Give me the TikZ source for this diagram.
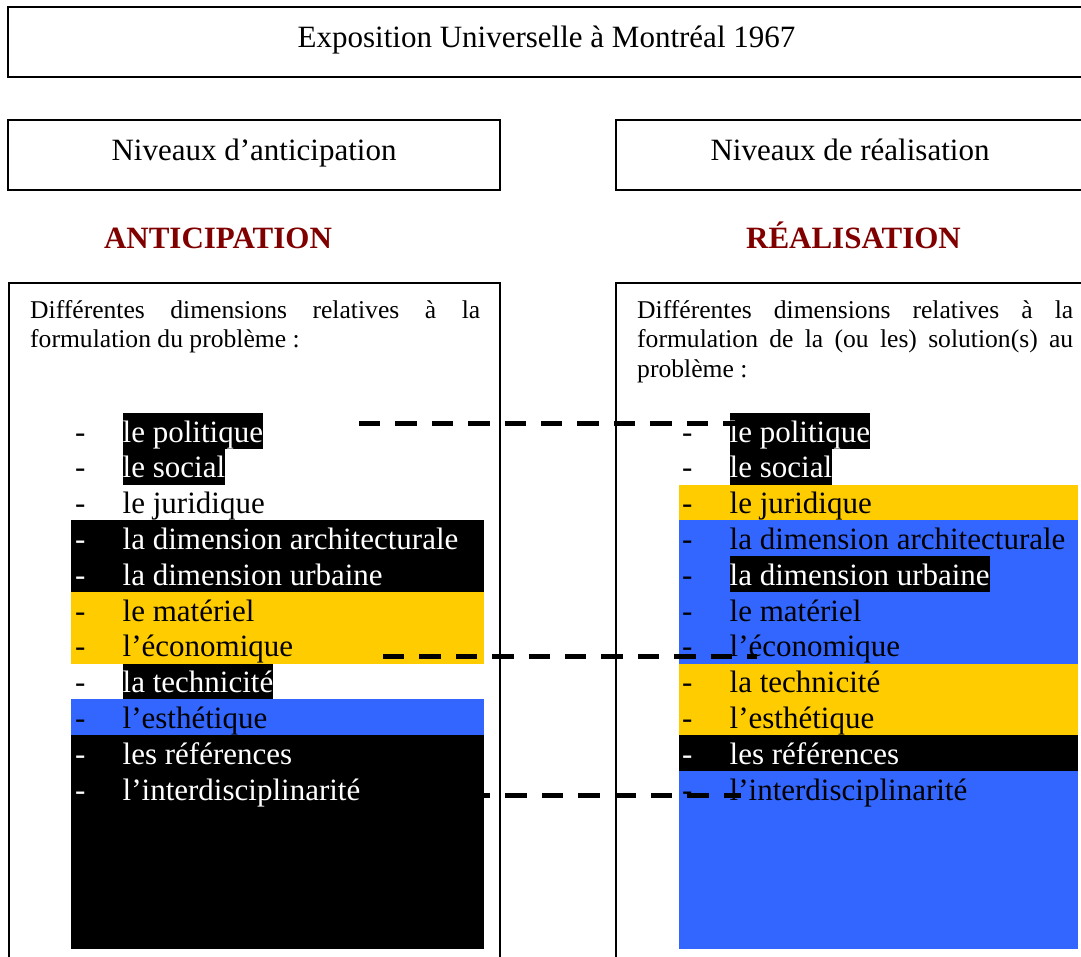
\documentclass[tikz,border=0pt]{standalone}
\usepackage{fontspec}
\setmainfont{Liberation Serif}
\definecolor{bandY}{RGB}{255,204,0}
\definecolor{bandB}{RGB}{51,102,255}
\definecolor{headRed}{RGB}{128,0,0}
\tikzset{frame/.style={draw=black,line width=1.4pt},
 titlebox/.style={frame,inner sep=0pt,font=\fontsize{31}{36}\selectfont,text height=20pt,text depth=10pt},
 head/.style={anchor=base,text=headRed,font=\fontsize{31}{36}\selectfont\bfseries},
 desc/.style={anchor=north west,inner sep=0pt,align=justify,font={\fontsize{25.6}{29.5}\selectfont\hyphenpenalty=10000\tolerance=9999}},
 item/.style={anchor=base west,inner sep=0pt,font=\fontsize{31}{36}\selectfont,text height=29pt,text depth=6.8pt},
 white item/.style={item,text=white},
 hl/.style={item,fill=black,text=white},
 link/.style={line width=5pt,dash pattern=on 21.4pt off 15pt}}

\begin{document}
\begin{tikzpicture}[x=1pt,y=-1pt]
\useasboundingbox (0,0) rectangle (1081,956);
\clip (0,0) rectangle (1081,956);
% top boxes
\node[titlebox,minimum width=1077pt,minimum height=70pt] (expo) at (546.5,42) {Exposition Universelle à Montréal 1967};
\node[titlebox,minimum width=492pt,minimum height=70pt] (nivA) at (254,155) {Niveaux d’anticipation};
\node[titlebox,minimum width=468pt,minimum height=70pt] (nivR) at (850,155) {Niveaux de réalisation};
\node[head] (antic) at (218,248) {ANTICIPATION};
\node[head] (real) at (853.5,248) {RÉALISATION};
% columns
\draw[frame] (9,283) rectangle (500,990);
\draw[frame] (616,283) rectangle (1095,990);
\node[desc,text width=450pt] (descA) at (30,300) {Différentes dimensions relatives à la formulation du problème :};
\node[desc,text width=436pt] (descR) at (637,300) {Différentes dimensions relatives à la formulation de la (ou les) solution(s) au problème :};
% bands, left
\fill[black] (71,520.4) rectangle (484,592);
\fill[bandY] (71,592) rectangle (484,663.6);
\fill[bandB] (71,699.4) rectangle (484,735.2);
\fill[black] (71,735.2) rectangle (484,949);
% bands, right
\fill[bandY] (679,484.6) rectangle (1078,520.4);
\fill[bandB] (679,520.4) rectangle (1078,663.6);
\fill[bandY] (679,663.6) rectangle (1078,735.2);
\fill[black] (679,735.2) rectangle (1078,771);
\fill[bandB] (679,771) rectangle (1078,949);
% anticipation list
\node[item] (dA0) at (75,442) {-};
\node[hl] (wA0) at (122.5,442) {le politique};
\node[item] (dA1) at (75,477.8) {-};
\node[hl] (wA1) at (122.5,477.8) {le social};
\node[item] (dA2) at (75,513.6) {-};
\node[item] (wA2) at (122.5,513.6) {le juridique};
\node[white item] (dA3) at (75,549.4) {-};
\node[white item] (wA3) at (122.5,549.4) {la dimension architecturale};
\node[white item] (dA4) at (75,585.2) {-};
\node[white item] (wA4) at (122.5,585.2) {la dimension urbaine};
\node[item] (dA5) at (75,621) {-};
\node[item] (wA5) at (122.5,621) {le matériel};
\node[item] (dA6) at (75,656.8) {-};
\node[item] (wA6) at (122.5,656.8) {l’économique};
\node[item] (dA7) at (75,692.6) {-};
\node[hl] (wA7) at (122.5,692.6) {la technicité};
\node[item] (dA8) at (75,728.4) {-};
\node[item] (wA8) at (122.5,728.4) {l’esthétique};
\node[white item] (dA9) at (75,764.2) {-};
\node[white item] (wA9) at (122.5,764.2) {les références};
\node[white item] (dA10) at (75,800) {-};
\node[white item] (wA10) at (122.5,800) {l’interdisciplinarité};
% realisation list
\node[item] (dR0) at (682,442) {-};
\node[hl] (wR0) at (729.5,442) {le politique};
\node[item] (dR1) at (682,477.8) {-};
\node[hl] (wR1) at (729.5,477.8) {le social};
\node[item] (dR2) at (682,513.6) {-};
\node[item] (wR2) at (729.5,513.6) {le juridique};
\node[item] (dR3) at (682,549.4) {-};
\node[item] (wR3) at (729.5,549.4) {la dimension architecturale};
\node[item] (dR4) at (682,585.2) {-};
\node[hl] (wR4) at (729.5,585.2) {la dimension urbaine};
\node[item] (dR5) at (682,621) {-};
\node[item] (wR5) at (729.5,621) {le matériel};
\node[item] (dR6) at (682,656.8) {-};
\node[item] (wR6) at (729.5,656.8) {l’économique};
\node[item] (dR7) at (682,692.6) {-};
\node[item] (wR7) at (729.5,692.6) {la technicité};
\node[item] (dR8) at (682,728.4) {-};
\node[item] (wR8) at (729.5,728.4) {l’esthétique};
\node[white item] (dR9) at (682,764.2) {-};
\node[white item] (wR9) at (729.5,764.2) {les références};
\node[item] (dR10) at (682,800) {-};
\node[item] (wR10) at (729.5,800) {l’interdisciplinarité};
% dashed links
\coordinate (pA1) at (359,423);
\coordinate (pR1) at (740,423);
\coordinate (pA2) at (383,656);
\coordinate (pR2) at (757,656);
\coordinate (pA3) at (469,795);
\coordinate (pR3) at (741,795);
\draw[link] (pA1) -- (pR1);
\draw[link] (pA2) -- (pR2);
\draw[link] (pA3) -- (pR3);
\end{tikzpicture}
\end{document}
